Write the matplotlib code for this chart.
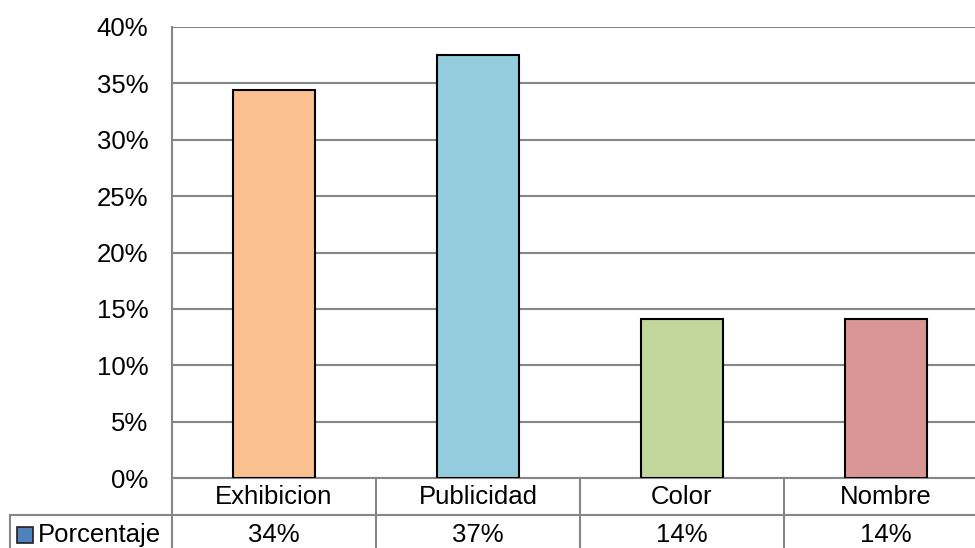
import matplotlib.pyplot as plt
from matplotlib.lines import Line2D
from matplotlib.patches import Rectangle
from matplotlib.ticker import FuncFormatter

plt.rcParams['font.family'] = ['Liberation Sans', 'DejaVu Sans']

categorias = ['Exhibicion', 'Publicidad', 'Color', 'Nombre']
porcentaje = [0.3438, 0.3749, 0.1406, 0.1406]
colores = ['#FAC090', '#93CDDD', '#C3D69B', '#D99694']
serie = 'Porcentaje'

gris = '#868686'
fs = 18.5

fig = plt.figure(figsize=(9.75, 5.48), dpi=100)
# plot area runs a little past the right edge of the canvas
ax = fig.add_axes([172 / 975, 70 / 548, 816 / 975, 451 / 548])

x = range(len(categorias))
ax.bar(x, porcentaje, width=0.4, color=colores, edgecolor='black', linewidth=1.5, zorder=3)

ax.set_xlim(-0.5, len(categorias) - 0.5)
ax.set_ylim(0, 0.40)
ax.set_yticks([i * 0.05 for i in range(9)])
ax.yaxis.set_major_formatter(FuncFormatter(lambda v, p: '{:.0%}'.format(v)))
ax.tick_params(axis='y', length=0, pad=17, labelsize=fs)
ax.set_xticks([])
ax.grid(axis='y', color=gris, linewidth=1.5, zorder=0)
for s in ['top', 'right', 'bottom']:
    ax.spines[s].set_visible(False)
ax.spines['left'].set_color(gris)
ax.spines['left'].set_linewidth(1.5)

# data table under the plot (sizes in pixels converted to axes fractions)
W, H = 816, 451
row_h = 37 / H
xt = ax.get_xaxis_transform()
key_left = (10 - 172) / W
line_kw = dict(color=gris, linewidth=1.5, clip_on=False)

ax.add_line(Line2D([-0.5, len(categorias) - 0.5], [0, 0], transform=xt, **line_kw))
ax.add_line(Line2D([key_left, 1], [-row_h, -row_h], transform=ax.transAxes, **line_kw))
ax.add_line(Line2D([key_left, key_left], [-row_h, -3 * row_h], transform=ax.transAxes, **line_kw))
for b in range(len(categorias) + 1):
    ax.add_line(Line2D([b - 0.5, b - 0.5], [0, -3 * row_h], transform=xt, **line_kw))

val_y = -row_h - 20 / H
for i, (c, v) in enumerate(zip(categorias, porcentaje)):
    ax.text(i, -row_h / 2, c, transform=xt, ha='center', va='center', fontsize=fs)
    ax.text(i, val_y, '{:.0%}'.format(v), transform=xt, ha='center', va='center', fontsize=fs)

# legend key inside the row header
ax.add_patch(Rectangle(((17 - 172) / W, val_y - 8 / H), 16 / W, 16 / H, transform=ax.transAxes,
                       facecolor='#4F81BD', edgecolor='#1F1F1F', linewidth=1.2, clip_on=False))
ax.text((38 - 172) / W, val_y, serie, transform=ax.transAxes, ha='left', va='center', fontsize=fs)

fig.savefig('out.png', dpi=100)
